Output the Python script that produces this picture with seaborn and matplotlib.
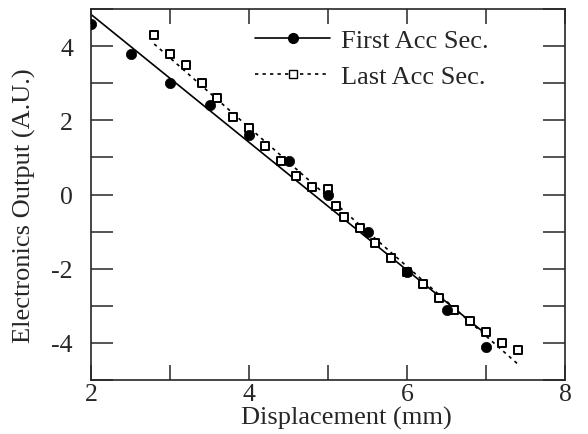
import numpy as np
import pandas as pd
import matplotlib
matplotlib.use("Agg")
import matplotlib.pyplot as plt
import seaborn as sns
from matplotlib.lines import Line2D

# Data
first_x = [2.0, 2.5, 3.0, 3.5, 4.0, 4.5, 5.0, 5.5, 6.0, 6.5, 7.0]
first_y = [4.6, 3.8, 3.0, 2.4, 1.6, 0.9, 0.0, -1.0, -2.1, -3.1, -4.1]

last_x = [2.8, 3.0, 3.2, 3.4, 3.6, 3.8, 4.0, 4.2, 4.4, 4.6, 4.8, 5.0, 5.1, 5.2,
          5.4, 5.6, 5.8, 6.0, 6.2, 6.4, 6.6, 6.8, 7.0, 7.2, 7.4]
last_y = [4.3, 3.8, 3.5, 3.0, 2.6, 2.1, 1.8, 1.3, 0.9, 0.5, 0.2, 0.15, -0.3, -0.6,
          -0.9, -1.3, -1.7, -2.1, -2.4, -2.8, -3.1, -3.4, -3.7, -4.0, -4.2]

series_labels = ["First Acc Sec.", "Last Acc Sec."]
x_label = "Displacement (mm)"
y_label = "Electronics Output (A.U.)"
x_ticks = [2, 3, 4, 5, 6, 7, 8]
y_ticks = [-5, -4, -3, -2, -1, 0, 1, 2, 3, 4, 5]

sns.set_style("ticks")
plt.rcParams["font.family"] = ["Liberation Serif", "DejaVu Serif"]
plt.rcParams["axes.unicode_minus"] = False

df_first = pd.DataFrame({"x": first_x, "y": first_y})
df_last = pd.DataFrame({"x": last_x, "y": last_y})

fig = plt.figure(figsize=(5.88, 4.35), dpi=100)
ax = fig.add_axes([91 / 588, 1 - 381 / 435, 474 / 588, 371 / 435])

# fit lines
sns.regplot(data=df_first, x="x", y="y", ax=ax, scatter=False, ci=None,
            truncate=True, line_kws=dict(color="black", lw=1.2, ls="-"))
sns.regplot(data=df_last, x="x", y="y", ax=ax, scatter=False, ci=None,
            truncate=True, line_kws=dict(color="black", lw=1.2, ls=(0, (2, 2.5))))

# markers
sns.scatterplot(data=df_last, x="x", y="y", ax=ax, marker="s", s=38,
                facecolor="white", edgecolor="black", linewidth=1.4, zorder=3)
sns.scatterplot(data=df_first, x="x", y="y", ax=ax, marker="o", s=55,
                color="black", edgecolor="black", linewidth=0.5, zorder=4)

ax.set_xlim(2, 8)
ax.set_ylim(-5, 5)
ax.set_xticks(x_ticks)
ax.set_xticklabels([str(t) if t % 2 == 0 else "" for t in x_ticks])
ax.set_yticks(y_ticks)
ax.set_yticklabels([str(t) if (t % 2 == 0 and abs(t) < 5) else "" for t in y_ticks])

ax.tick_params(axis="x", direction="in", length=11, width=1.1, top=True,
               labelsize=18.5, pad=2)
ax.tick_params(axis="y", direction="in", length=16, width=1.1, right=True,
               labelsize=18.5, pad=13)
for sp in ax.spines.values():
    sp.set_visible(True)
    sp.set_linewidth(1.2)

ax.set_xlabel(x_label, fontsize=19)
ax.xaxis.set_label_coords((346.5 - 91) / 474, (381 - 418) / 371)
ax.xaxis.label.set_va("center")
ax.set_ylabel(y_label, fontsize=19)
ax.yaxis.set_label_coords((24 - 91) / 474, (381 - 206) / 371)
ax.yaxis.label.set_va("center")

handles = [
    Line2D([], [], color="black", lw=1.2, ls="-", marker="o", markersize=7,
           markerfacecolor="black", markeredgecolor="black"),
    Line2D([], [], color="black", lw=1.2, ls=(0, (2, 2.5)), marker="s", markersize=6,
           markerfacecolor="white", markeredgecolor="black", markeredgewidth=1.0),
]
ax.legend(handles, series_labels, loc="upper left", frameon=False, fontsize=19,
          bbox_to_anchor=((255 - 91) / 474, (381 - 30) / 371), borderpad=0,
          borderaxespad=0, handlelength=2.85, handletextpad=0.42,
          labelspacing=0.45, markerscale=1.0)

fig.savefig("out.png", dpi=100)
